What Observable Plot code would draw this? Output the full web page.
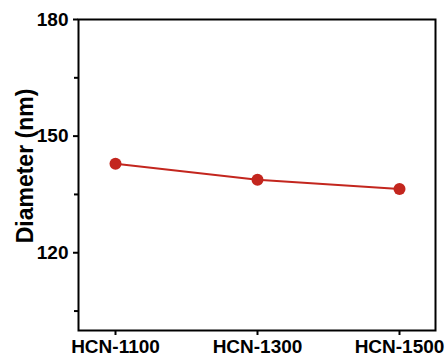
<!DOCTYPE html>
<html>
<head>
<meta charset="utf-8">
<script src="https://cdn.jsdelivr.net/npm/d3@7"></script>
<script src="https://cdn.jsdelivr.net/npm/@observablehq/plot@0.6"></script>
<style>
  html, body { margin: 0; padding: 0; background: #fff; }
</style>
</head>
<body>
<div id="chart"></div>
<script>
const categories = ["HCN-1100", "HCN-1300", "HCN-1500"];
const diameters = [142.9, 138.8, 136.4];
const yMajorTicks = [120, 150, 180];
const yMinorTicks = [105, 135, 165];
const yLabel = "Diameter (nm)";

const data = categories.map((c, i) => ({sample: c, d: diameters[i]}));
const red = "#c3261e";

const chart = Plot.plot({
  width: 446,
  height: 364,
  marginLeft: 78,
  marginRight: 11,
  marginTop: 19,
  marginBottom: 34,
  style: {fontFamily: "'Liberation Sans', Arial, sans-serif", fontWeight: "bold", fontSize: "19px", color: "#000", background: "#fff"},
  x: {type: "point", domain: categories, padding: 0.25},
  y: {domain: [100, 180]},
  marks: [
    Plot.frame({stroke: "#000", strokeWidth: 2}),
    Plot.axisY({ticks: yMajorTicks, tickSize: 5, tickPadding: 5, strokeWidth: 2, label: null, fontSize: 19, fontWeight: "bold"}),
    Plot.axisY({ticks: yMinorTicks, tickSize: 4, strokeWidth: 2, text: null, label: null}),
    Plot.axisX({tickSize: 5, tickPadding: 4, strokeWidth: 2, label: null, fontSize: 19, fontWeight: "bold"}),
    Plot.text([yLabel], {frameAnchor: "left", textAnchor: "middle", rotate: -90, dx: -53, dy: -9, fontSize: 23, fontWeight: "bold", fill: "#000"}),
    Plot.line(data, {x: "sample", y: "d", stroke: red, strokeWidth: 2}),
    Plot.dot(data, {x: "sample", y: "d", r: 6, fill: red, stroke: "none"})
  ]
});
document.getElementById("chart").appendChild(chart);
</script>
</body>
</html>
